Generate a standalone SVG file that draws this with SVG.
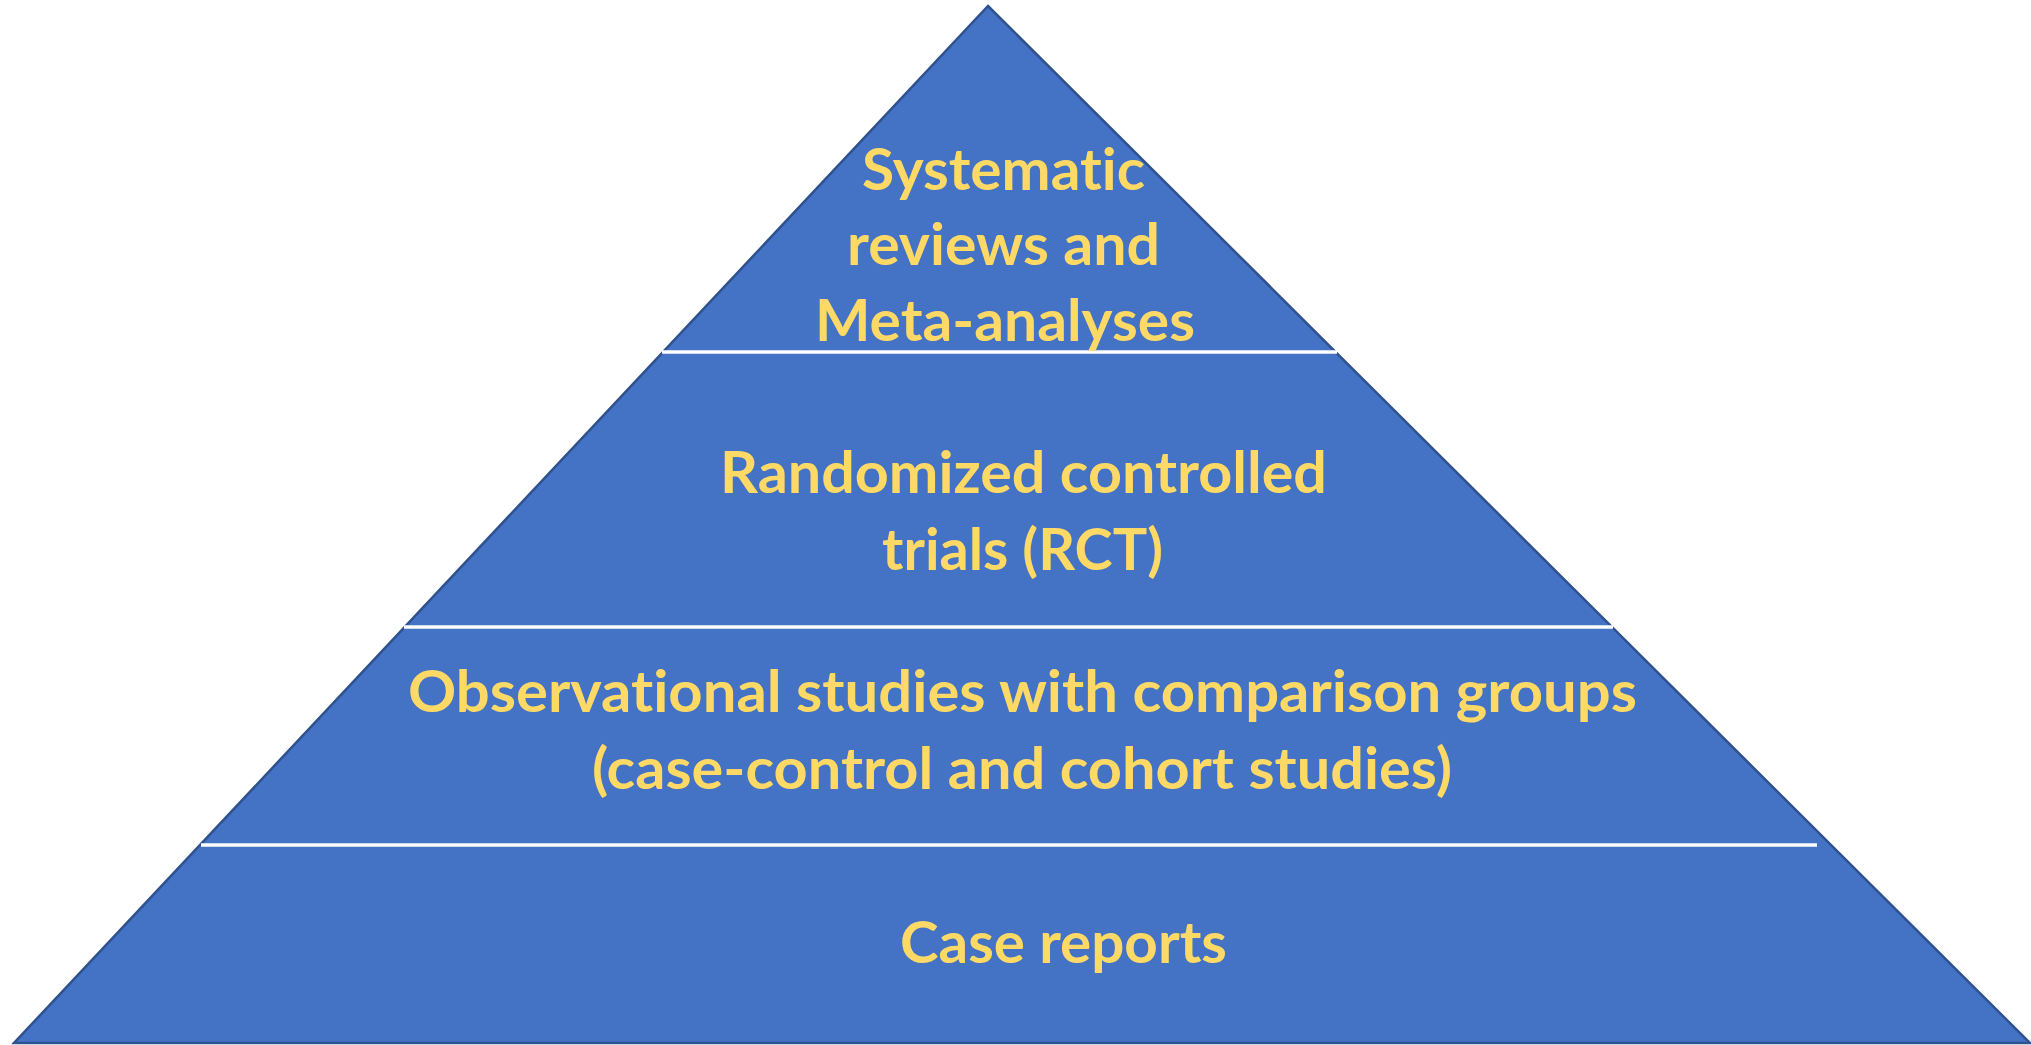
<svg xmlns="http://www.w3.org/2000/svg" width="2031" height="1045" viewBox="0 0 2031 1045">
  <style>
    .pyramid { fill: #4472C4; stroke: #2F528F; stroke-width: 2.5; stroke-linejoin: miter; }
    .sep { stroke: #FFFFFF; stroke-width: 3.5; fill: none; }
    .label { font-family: Lato, "Open Sans", "Liberation Sans", sans-serif; font-weight: 700; font-size: 57px; fill: #FFD966; text-anchor: middle; font-variant-ligatures: none; font-feature-settings: "liga" 0, "clig" 0; }
  </style>

  <rect x="0" y="0" width="2031" height="1045" fill="#FFFFFF"/>

  <!-- Pyramid body -->
  <polygon class="pyramid" points="988,6 2030,1043 14,1043"/>

  <!-- Tier separators -->
  <g id="separators">
    <line class="sep" x1="662" y1="352" x2="1337" y2="352"/>
    <line class="sep" x1="404" y1="627" x2="1613" y2="627"/>
    <line class="sep" x1="201" y1="845" x2="1817" y2="845"/>
  </g>

  <!-- Tier 1 (apex) -->
  <g id="tier-systematic-reviews">
    <text class="label" x="1003.5" y="190" textLength="283" lengthAdjust="spacingAndGlyphs">Systematic</text>
    <text class="label" x="1003.5" y="265" textLength="313" lengthAdjust="spacingAndGlyphs">reviews and</text>
    <text class="label" x="1005" y="341" textLength="380" lengthAdjust="spacingAndGlyphs">Meta-analyses</text>
  </g>

  <!-- Tier 2 -->
  <g id="tier-rct">
    <text class="label" x="1023.5" y="493" textLength="607" lengthAdjust="spacingAndGlyphs">Randomized controlled</text>
    <text class="label" x="1022.5" y="570" textLength="281" lengthAdjust="spacingAndGlyphs">trials (RCT)</text>
  </g>

  <!-- Tier 3 -->
  <g id="tier-observational">
    <text class="label" x="1022.5" y="712" textLength="1229" lengthAdjust="spacingAndGlyphs">Observational studies with comparison groups</text>
    <text class="label" x="1022" y="789" textLength="860" lengthAdjust="spacingAndGlyphs">(case-control and cohort studies)</text>
  </g>

  <!-- Tier 4 (base) -->
  <g id="tier-case-reports">
    <text class="label" x="1063.5" y="963" textLength="327" lengthAdjust="spacingAndGlyphs">Case reports</text>
  </g>
</svg>
